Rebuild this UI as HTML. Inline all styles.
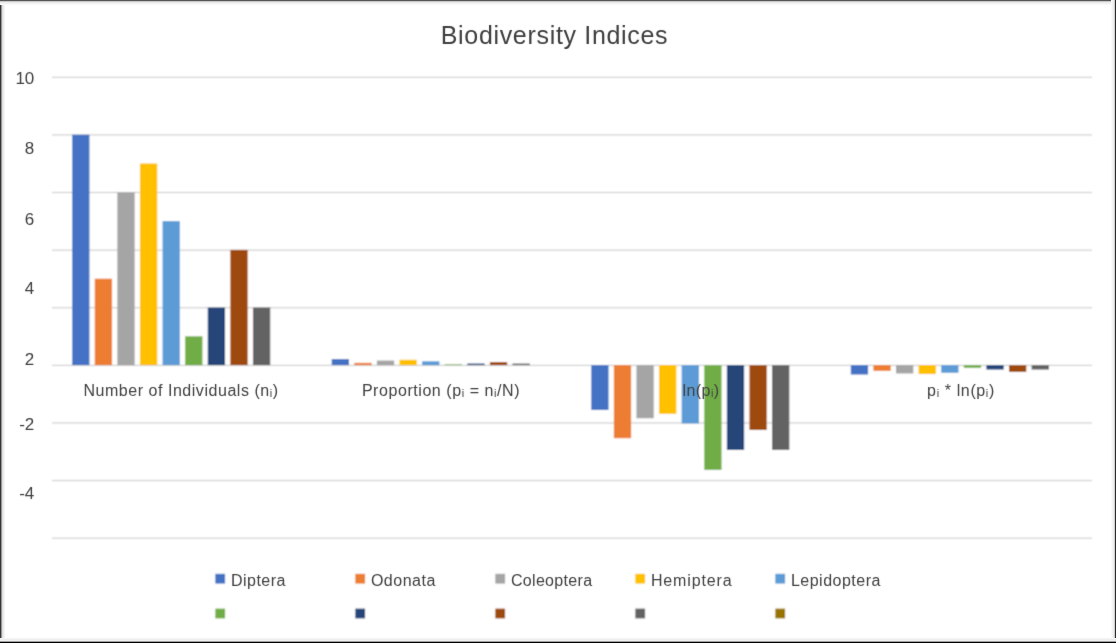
<!DOCTYPE html>
<html><head><meta charset="utf-8"><style>
html,body{margin:0;padding:0;background:#fff;}
body{width:1116px;height:643px;overflow:hidden;position:relative;}
svg{position:absolute;left:0;top:0;}
text{font-family:"Liberation Sans",sans-serif;fill:#404040;}
.ax{font-size:17px;letter-spacing:0px;}
.cat{font-size:16px;letter-spacing:0.42px;}
.leg{font-size:16px;letter-spacing:0.5px;}
.title{font-size:25px;letter-spacing:0.68px;fill:#404040;}
.sub{font-size:11px;}
</style></head><body>
<svg width="1116" height="643" viewBox="0 0 1116 643">
<defs>
<filter id="bl" x="0" y="0" width="1116" height="643" filterUnits="userSpaceOnUse"><feConvolveMatrix order="3" kernelMatrix="1 2 1 2 4 2 1 2 1" divisor="16" edgeMode="duplicate"/></filter>
<filter id="tb" x="0" y="0" width="1116" height="643" filterUnits="userSpaceOnUse"><feConvolveMatrix order="3" kernelMatrix="0 1 0 1 8 1 0 1 0" divisor="12" edgeMode="duplicate"/></filter>
</defs>
<g filter="url(#bl)">
<rect x="0" y="0" width="1116" height="643" fill="#fff"/>
<rect x="52" y="76.80" width="1040" height="1" fill="#C6C6C6"/>
<rect x="52" y="134.41" width="1040" height="1" fill="#C6C6C6"/>
<rect x="52" y="192.02" width="1040" height="1" fill="#C6C6C6"/>
<rect x="52" y="249.64" width="1040" height="1" fill="#C6C6C6"/>
<rect x="52" y="307.25" width="1040" height="1" fill="#C6C6C6"/>
<rect x="52" y="364.86" width="1040" height="1" fill="#C6C6C6"/>
<rect x="52" y="422.47" width="1040" height="1" fill="#C6C6C6"/>
<rect x="52" y="480.09" width="1040" height="1" fill="#C6C6C6"/>
<rect x="52" y="537.70" width="1040" height="1" fill="#C6C6C6"/>
<rect x="72.15" y="134.70" width="17.3" height="230.40" fill="#4472C4"/>
<rect x="94.75" y="278.70" width="17.3" height="86.40" fill="#ED7D31"/>
<rect x="117.35" y="192.30" width="17.3" height="172.80" fill="#A5A5A5"/>
<rect x="139.95" y="163.50" width="17.3" height="201.60" fill="#FFC000"/>
<rect x="162.55" y="221.10" width="17.3" height="144.00" fill="#5B9BD5"/>
<rect x="185.15" y="336.30" width="17.3" height="28.80" fill="#70AD47"/>
<rect x="207.75" y="307.50" width="17.3" height="57.60" fill="#264478"/>
<rect x="230.35" y="249.90" width="17.3" height="115.20" fill="#9E480E"/>
<rect x="252.95" y="307.50" width="17.3" height="57.60" fill="#636363"/>
<rect x="331.70" y="359.04" width="17.3" height="6.06" fill="#4472C4"/>
<rect x="354.30" y="362.83" width="17.3" height="2.27" fill="#ED7D31"/>
<rect x="376.90" y="360.55" width="17.3" height="4.55" fill="#A5A5A5"/>
<rect x="399.50" y="359.79" width="17.3" height="5.31" fill="#FFC000"/>
<rect x="422.10" y="361.31" width="17.3" height="3.79" fill="#5B9BD5"/>
<rect x="444.70" y="364.34" width="17.3" height="0.76" fill="#70AD47"/>
<rect x="467.30" y="363.58" width="17.3" height="1.52" fill="#264478"/>
<rect x="489.90" y="362.07" width="17.3" height="3.03" fill="#9E480E"/>
<rect x="512.50" y="363.58" width="17.3" height="1.52" fill="#636363"/>
<rect x="591.25" y="365.10" width="17.3" height="44.87" fill="#4472C4"/>
<rect x="613.85" y="365.10" width="17.3" height="73.12" fill="#ED7D31"/>
<rect x="636.45" y="365.10" width="17.3" height="53.16" fill="#A5A5A5"/>
<rect x="659.05" y="365.10" width="17.3" height="48.72" fill="#FFC000"/>
<rect x="681.65" y="365.10" width="17.3" height="58.41" fill="#5B9BD5"/>
<rect x="704.25" y="365.10" width="17.3" height="104.76" fill="#70AD47"/>
<rect x="726.85" y="365.10" width="17.3" height="84.80" fill="#264478"/>
<rect x="749.45" y="365.10" width="17.3" height="64.84" fill="#9E480E"/>
<rect x="772.05" y="365.10" width="17.3" height="84.80" fill="#636363"/>
<rect x="850.80" y="365.10" width="17.3" height="9.45" fill="#4472C4"/>
<rect x="873.40" y="365.10" width="17.3" height="5.77" fill="#ED7D31"/>
<rect x="896.00" y="365.10" width="17.3" height="8.39" fill="#A5A5A5"/>
<rect x="918.60" y="365.10" width="17.3" height="8.97" fill="#FFC000"/>
<rect x="941.20" y="365.10" width="17.3" height="7.69" fill="#5B9BD5"/>
<rect x="963.80" y="365.10" width="17.3" height="2.76" fill="#70AD47"/>
<rect x="986.40" y="365.10" width="17.3" height="4.46" fill="#264478"/>
<rect x="1009.00" y="365.10" width="17.3" height="6.82" fill="#9E480E"/>
<rect x="1031.60" y="365.10" width="17.3" height="4.46" fill="#636363"/>
<rect x="215.3" y="573.8" width="9.8" height="9.8" fill="#4472C4"/>
<rect x="355.3" y="573.8" width="9.8" height="9.8" fill="#ED7D31"/>
<rect x="495.3" y="573.8" width="9.8" height="9.8" fill="#A5A5A5"/>
<rect x="635.3" y="573.8" width="9.8" height="9.8" fill="#FFC000"/>
<rect x="775.3" y="573.8" width="9.8" height="9.8" fill="#5B9BD5"/>
<rect x="215.3" y="608.6" width="9.8" height="9.8" fill="#70AD47"/>
<rect x="355.3" y="608.6" width="9.8" height="9.8" fill="#264478"/>
<rect x="495.3" y="608.6" width="9.8" height="9.8" fill="#9E480E"/>
<rect x="635.3" y="608.6" width="9.8" height="9.8" fill="#636363"/>
<rect x="775.3" y="608.6" width="9.8" height="9.8" fill="#997300"/>
</g>
<g filter="url(#tb)">
<text x="34.3" y="84.2" text-anchor="end" class="ax">10</text>
<text x="34.3" y="154.2" text-anchor="end" class="ax">8</text>
<text x="34.3" y="224.5" text-anchor="end" class="ax">6</text>
<text x="34.3" y="294.2" text-anchor="end" class="ax">4</text>
<text x="34.3" y="364.5" text-anchor="end" class="ax">2</text>
<text x="34.3" y="429.7" text-anchor="end" class="ax">-2</text>
<text x="34.3" y="499.3" text-anchor="end" class="ax">-4</text>
<text x="181" y="395.5" text-anchor="middle" class="cat" style="letter-spacing:0.54px">Number of Individuals (n<tspan class="sub" dy="1.5">i</tspan><tspan dy="-1.5">)</tspan></text>
<text x="441" y="395.5" text-anchor="middle" class="cat" style="letter-spacing:0.56px">Proportion (p<tspan class="sub" dy="1.5">i</tspan><tspan dy="-1.5"> = n</tspan><tspan class="sub" dy="1.5">i</tspan><tspan dy="-1.5">/N)</tspan></text>
<text x="701" y="395.5" text-anchor="middle" class="cat" style="letter-spacing:0.42px">ln(p<tspan class="sub" dy="1.5">i</tspan><tspan dy="-1.5">)</tspan></text>
<text x="961" y="395.5" text-anchor="middle" class="cat" style="letter-spacing:0.62px">p<tspan class="sub" dy="1.5">i</tspan><tspan dy="-1.5"> * ln(p</tspan><tspan class="sub" dy="1.5">i</tspan><tspan dy="-1.5">)</tspan></text>
<text x="554.5" y="43.8" text-anchor="middle" class="title">Biodiversity Indices</text>
<text x="230.9" y="586.1" class="leg" style="letter-spacing:0.5px">Diptera</text>
<text x="370.9" y="586.1" class="leg" style="letter-spacing:0.5px">Odonata</text>
<text x="510.9" y="586.1" class="leg" style="letter-spacing:0.33px">Coleoptera</text>
<text x="650.9" y="586.1" class="leg" style="letter-spacing:0.87px">Hemiptera</text>
<text x="790.9" y="586.1" class="leg" style="letter-spacing:0.5px">Lepidoptera</text>
</g>
<rect x="0" y="0" width="5" height="643" fill="#F5F5F5"/><rect x="0" y="0" width="4" height="643" fill="#EBEBEB"/><rect x="0" y="0" width="3" height="643" fill="#E0E0E0"/><rect x="0" y="0" width="2" height="643" fill="#959595"/><rect x="0" y="0" width="1" height="643" fill="#363636"/>
<rect x="0" y="0" width="1116" height="5" fill="#F9F9F9"/><rect x="0" y="0" width="1116" height="4" fill="#F2F2F2"/><rect x="0" y="0" width="1116" height="3" fill="#EAEAEA"/><rect x="0" y="0" width="1116" height="2" fill="#C8C8C8"/><rect x="0" y="0" width="1116" height="1" fill="#565656"/>
<rect x="1111" y="0" width="5" height="643" fill="#FAFAFA"/><rect x="1112" y="0" width="4" height="643" fill="#F3F3F3"/><rect x="1113" y="0" width="3" height="643" fill="#EEEEEE"/><rect x="1114" y="0" width="2" height="643" fill="#D0D0D0"/><rect x="1115" y="0" width="1" height="643" fill="#2A2A2A"/>
<rect x="0" y="638" width="1116" height="5" fill="#F5F5F5"/><rect x="0" y="639" width="1116" height="4" fill="#EEEEEE"/><rect x="0" y="640" width="1116" height="3" fill="#F0F0F0"/><rect x="0" y="641" width="1116" height="2" fill="#A0A0A0"/><rect x="0" y="642" width="1116" height="1" fill="#000000"/>
</svg>
</body></html>
